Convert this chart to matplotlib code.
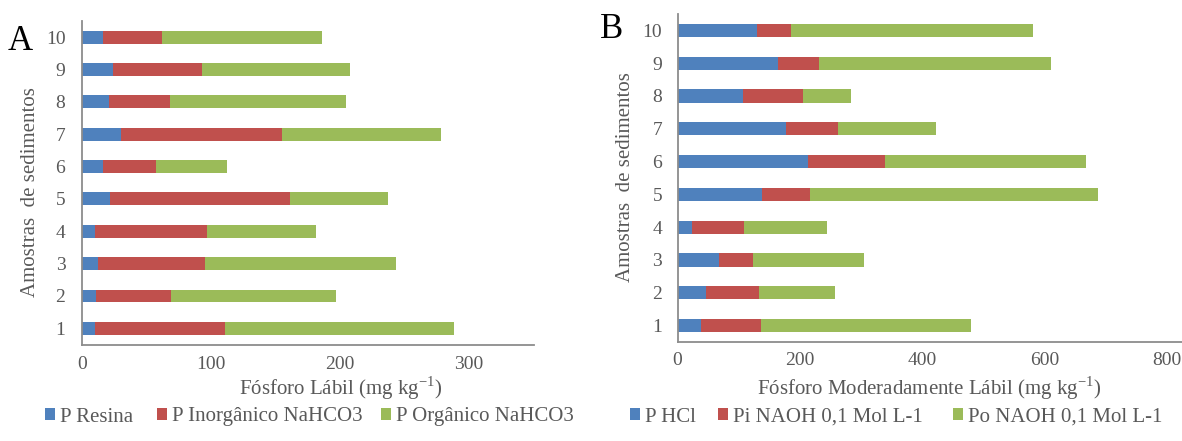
import matplotlib
matplotlib.use("Agg")
import matplotlib.pyplot as plt
import numpy as np

plt.rcParams['font.family'] = ['Liberation Serif', 'DejaVu Serif']
plt.rcParams['mathtext.fontset'] = 'custom'
plt.rcParams['mathtext.rm'] = 'Liberation Serif'

amostras = ["1", "2", "3", "4", "5", "6", "7", "8", "9", "10"]

# panel A - fosforo labil (mg/kg)
p_resina = [10, 11, 12, 10, 22, 16, 30, 21, 24, 16]
p_inorg_nahco3 = [101, 58, 83, 87, 139, 41, 125, 47, 69, 46]
p_org_nahco3 = [177, 128, 148, 84, 76, 55, 123, 137, 115, 124]
labels_a = ["P Resina", "P Inorgânico NaHCO3", "P Orgânico NaHCO3"]

# panel B - fosforo moderadamente labil (mg/kg)
p_hcl = [38, 46, 68, 24, 138, 214, 178, 107, 164, 130]
pi_naoh = [98, 88, 56, 84, 79, 125, 84, 99, 68, 55]
po_naoh = [344, 123, 181, 137, 471, 329, 160, 78, 379, 397]
labels_b = ["P HCl", "Pi NAOH 0,1 Mol L-1", "Po NAOH 0,1 Mol L-1"]

cores = ['#4F81BD', '#C0504D', '#9BBB59']
cinza = '#595959'

fig = plt.figure(figsize=(11.82, 4.41), dpi=100)
axA = fig.add_axes([0.0694, 0.2188, 0.382, 0.7336])
axB = fig.add_axes([0.5732, 0.2245, 0.4268, 0.7438])


def barras(ax, series, labels):
    y = np.arange(len(amostras))
    left = np.zeros(len(amostras))
    hs = []
    for vals, c, lab in zip(series, cores, labels):
        vals = np.array(vals, dtype=float)
        b = ax.barh(y, vals, left=left, height=0.4, color=c, label=lab)
        left += vals
        hs.append(b)
    ax.set_yticks(y)
    ax.set_yticklabels(amostras)
    ax.set_ylim(-0.5, len(amostras) - 0.5)
    for s in ['top', 'right']:
        ax.spines[s].set_visible(False)
    for s in ['left', 'bottom']:
        ax.spines[s].set_color('#8c8c8c')
        ax.spines[s].set_linewidth(1.3)
    ax.tick_params(length=0, labelsize=14, labelcolor=cinza)
    return hs


hA = barras(axA, [p_resina, p_inorg_nahco3, p_org_nahco3], labels_a)
axA.set_xlim(0, 350)
axA.set_xticks([0, 100, 200, 300])
axA.tick_params(axis='y', pad=12)
axA.tick_params(axis='x', pad=8)

hB = barras(axB, [p_hcl, pi_naoh, po_naoh], labels_b)
axB.set_xlim(0, 825)
axB.set_xticks([0, 200, 400, 600, 800])
axB.tick_params(axis='y', pad=11)
axB.tick_params(axis='x', pad=7)

axA.set_xlabel(r'Fósforo Lábil (mg kg$^{\mathrm{-1}}$)', fontsize=15, color=cinza)
axA.xaxis.set_label_coords(0.574, -0.134)
axA.set_ylabel('Amostras  de sedimentos', fontsize=15, color=cinza)
axA.yaxis.set_label_coords(-0.115, 0.471)

axB.set_xlabel(r'Fósforo Moderadamente Lábil (mg kg$^{\mathrm{-1}}$)', fontsize=15, color=cinza)
axB.xaxis.set_label_coords(0.498, -0.14)
axB.set_ylabel('Amostras  de sedimentos', fontsize=15, color=cinza)
axB.yaxis.set_label_coords(-0.104, 0.503)
for ax in (axA, axB):
    ax.xaxis.label.set_va('center')
    ax.yaxis.label.set_va('center')

# legend entries placed one by one, like the excel layout
leg_x = [45, 157, 381, 630, 718, 953]
for h, lab, x in zip(hA + hB, labels_a + labels_b, leg_x):
    fig.legend([h], [lab], loc='center left', bbox_to_anchor=(x / 1182, 1 - 417 / 441),
               frameon=False, fontsize=15, handlelength=0.5, handleheight=0.5,
               handletextpad=0.2, borderpad=0, borderaxespad=0, labelcolor=cinza)

fig.text(8 / 1182, 1 - 42 / 441, 'A', fontsize=25, va='center', ha='left', color='black')
fig.text(600 / 1182, 1 - 29 / 441, 'B', fontsize=25, va='center', ha='left', color='black')

fig.savefig('out.png', dpi=100)
